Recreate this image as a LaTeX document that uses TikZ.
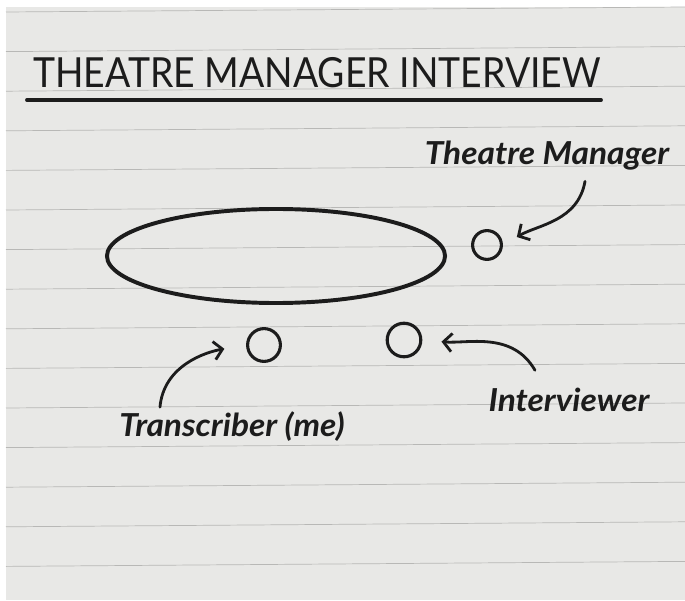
\documentclass[tikz,border=0pt]{standalone}
\usepackage{fontspec}
\setmainfont{Lato}
\newfontfamily\headfont[FakeStretch=0.9]{Lato}
\newfontfamily\scrawlfont[FakeStretch=1.06]{Lato}
\usetikzlibrary{arrows.meta,shapes.geometric}

\definecolor{paper}{HTML}{E8E8E6}
\definecolor{ruling}{HTML}{B8B8B6}
\definecolor{ink}{HTML}{1C1C1C}

\begin{document}
\begin{tikzpicture}[
      x=0.025cm, y=0.025cm,
      pen/.style={draw=ink, line width=2.2pt},
      seat/.style={circle, pen, inner sep=0pt},
      scrawl/.style={font=\scrawlfont\bfseries\itshape\fontsize{22.5}{27}\selectfont, text=ink, anchor=base, inner sep=0pt},
      pointer/.style={ink, line width=2pt, line cap=round, -{Straight Barb[length=6pt,width=13pt,line width=2pt]}}
    ]
      \useasboundingbox (0,0) rectangle (685,600);
      % sheet of ruled paper
      \fill[white] (0,0) rectangle (685,600);
      \fill[paper] (6,0) rectangle (685,593);
      \foreach \k in {0,...,14}
        \draw[ruling, line width=0.5pt] (6,588-39.6*\k) -- ++(679,5);

      % heading
      \node[text=ink, anchor=base, inner sep=0pt, font=\headfont\fontsize{29.5}{34}\selectfont] (heading) at (317,512) {THEATRE MANAGER INTERVIEW};
      \draw[ink, line width=2.8pt, line cap=round] ([xshift=-0.15cm, yshift=-0.3cm]heading.base west) -- ([yshift=-0.3cm]heading.base east);

      % table and the three people round it
      \node[ellipse, pen, line width=2.8pt, minimum width=8.45cm, minimum height=2.35cm] (table) at (276,344) {};
      \node[seat, minimum size=0.72cm] (manager) at (487,355) {};
      \node[seat, minimum size=0.82cm] (scribe) at (264,255) {};
      \node[seat, minimum width=0.76cm, minimum height=0.84cm] (asker) at (404,260) {};

      \node[scrawl] (manager label) at (547,435) {Theatre Manager};
      \node[scrawl] (scribe label) at (232,163) {Transcriber (me)};
      \node[scrawl] (asker label) at (569,188) {Interviewer};

      \draw[pointer, shorten >=0.4cm] ([xshift=0.95cm, yshift=-0.26cm]manager label.south) to[out=-100, in=30] (manager.east);
      \draw[pointer, shorten >=0.55cm] ([xshift=-1.8cm, yshift=0.12cm]scribe label.north) to[out=85, in=190] (scribe.west);
      \draw[pointer, shorten >=0.48cm] ([xshift=-0.85cm, yshift=0.45cm]asker label.north) to[out=120, in=-5] (asker.east);

      \end{tikzpicture}
\end{document}
